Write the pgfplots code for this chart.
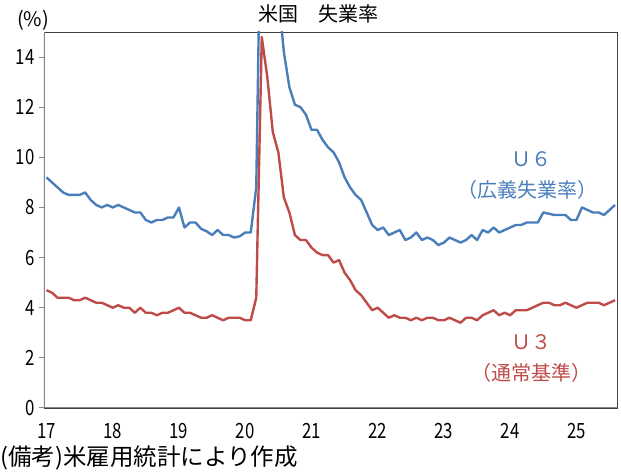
\documentclass[border=0pt]{standalone}
\usepackage{fontspec}
\usepackage{pgfplots}
\usepackage{pgfplotstable}
\pgfplotsset{compat=1.18}
\setmainfont{Noto Sans CJK JP}
\newfontfamily\numfont[FakeStretch=0.8]{Noto Sans CJK JP}
\definecolor{ublue}{HTML}{4A7EBB}
\definecolor{ured}{HTML}{BE4B48}
\definecolor{axgray}{HTML}{868686}

\pgfplotstableread{
x u3 u6
0 4.7 9.2
1 4.6 9.0
2 4.4 8.8
3 4.4 8.6
4 4.4 8.5
5 4.3 8.5
6 4.3 8.5
7 4.4 8.6
8 4.3 8.3
9 4.2 8.1
10 4.2 8.0
11 4.1 8.1
12 4.0 8.0
13 4.1 8.1
14 4.0 8.0
15 4.0 7.9
16 3.8 7.8
17 4.0 7.8
18 3.8 7.5
19 3.8 7.4
20 3.7 7.5
21 3.8 7.5
22 3.8 7.6
23 3.9 7.6
24 4.0 8.0
25 3.8 7.2
26 3.8 7.4
27 3.7 7.4
28 3.6 7.15
29 3.6 7.05
30 3.7 6.9
31 3.6 7.1
32 3.5 6.9
33 3.6 6.9
34 3.6 6.8
35 3.6 6.85
36 3.5 7.0
37 3.5 7.0
38 4.4 8.8
39 14.8 22.9
40 13.2 21.2
41 11.0 18.0
42 10.2 16.5
43 8.4 14.2
44 7.8 12.8
45 6.9 12.1
46 6.7 12.0
47 6.7 11.7
48 6.4 11.1
49 6.2 11.1
50 6.1 10.7
51 6.1 10.4
52 5.8 10.2
53 5.9 9.8
54 5.4 9.2
55 5.1 8.8
56 4.7 8.5
57 4.5 8.3
58 4.2 7.8
59 3.9 7.3
60 4.0 7.1
61 3.8 7.2
62 3.6 6.9
63 3.7 7.0
64 3.6 7.1
65 3.6 6.7
66 3.5 6.8
67 3.6 7.0
68 3.5 6.7
69 3.6 6.8
70 3.6 6.7
71 3.5 6.5
72 3.5 6.6
73 3.6 6.8
74 3.5 6.7
75 3.4 6.6
76 3.6 6.7
77 3.6 6.9
78 3.5 6.7
79 3.7 7.1
80 3.8 7.0
81 3.9 7.2
82 3.7 7.0
83 3.8 7.1
84 3.7 7.2
85 3.9 7.3
86 3.9 7.3
87 3.9 7.4
88 4.0 7.4
89 4.1 7.4
90 4.2 7.8
91 4.2 7.75
92 4.1 7.7
93 4.1 7.7
94 4.2 7.7
95 4.1 7.5
96 4.0 7.5
97 4.1 8.0
98 4.2 7.9
99 4.2 7.8
100 4.2 7.8
101 4.1 7.7
102 4.2 7.9
103 4.3 8.1
}\data

\begin{document}
\begin{tikzpicture}[x=1bp,y=1bp]
\path[use as bounding box] (-44,-64) rectangle (577,408);
\begin{axis}[
  at={(0,0)}, anchor=south west,
  scale only axis, width=573.5bp, height=376bp,
  xmin=-0.45, xmax=103.44, ymin=0, ymax=15,
  xtick={0,12,24,36,48,60,72,84,96},
  xticklabels={17,18,19,20,21,22,23,24,25},
  ytick={0,2,4,6,8,10,12,14},
  xtick style={draw=none},
  ytick pos=left,
  tick align=outside,
  major tick length=5bp,
  ytick style={draw=axgray, line width=1pt},
  axis line style={draw=black!75, line width=0.8pt},
  tick label style={font=\numfont\fontsize{21bp}{21bp}\selectfont},
  /pgf/number format/assume math mode=true,
  yticklabel style={xshift=-1bp},
  xticklabel style={yshift=-7bp},
  clip=true,
]
\addplot[ublue, line width=2.4pt, line join=round] table[x=x,y=u6]{\data};
\addplot[ured, line width=2.4pt, line join=round] table[x=x,y=u3]{\data};
\draw[axgray, line width=1.6pt] (rel axis cs:0,1) -- (rel axis cs:0,0) -- (rel axis cs:1,0);
\node[ublue, font=\fontsize{20bp}{20bp}\selectfont] at (axis cs:87.8,9.92) {Ｕ６};
\node[ublue, font=\fontsize{20bp}{20bp}\selectfont] at (axis cs:87.1,8.72) {（広義失業率）};
\node[ured, font=\fontsize{20bp}{20bp}\selectfont] at (axis cs:87.8,2.64) {Ｕ３};
\node[ured, font=\fontsize{20bp}{20bp}\selectfont] at (axis cs:87.9,1.4) {（通常基準）};
\end{axis}
\node[font=\fontsize{20bp}{20bp}\selectfont] at (274,394) {米国　失業率};
\node[anchor=west, inner sep=0pt, font=\fontsize{20bp}{20bp}\selectfont] at (-27,388) {(\%)};
\node[anchor=west, inner sep=0pt, font=\fontsize{23.5bp}{23.5bp}\selectfont] at (-44,-50) {(備考)米雇用統計により作成};
\end{tikzpicture}
\end{document}
